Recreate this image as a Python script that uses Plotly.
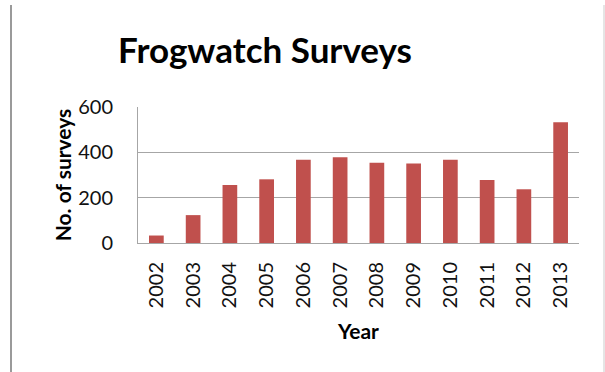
import plotly.graph_objects as go

years = ["2002", "2003", "2004", "2005", "2006", "2007", "2008", "2009", "2010", "2011", "2012", "2013"]
surveys = [33, 123, 256, 281, 367, 378, 354, 351, 367, 278, 237, 533]

W, H = 605, 372
L, R, T, B = 138, 26, 107, 129
pw, ph = W - L - R, H - T - B

FONT = "Lato"
GRAY = "#a6a6a6"

fig = go.Figure(go.Bar(x=years, y=surveys, marker=dict(color="#C0504D", line=dict(width=0)), width=0.4))

fig.update_layout(
    width=W, height=H,
    margin=dict(l=L, r=R, t=T, b=B),
    paper_bgcolor="white", plot_bgcolor="white",
    font=dict(family=FONT, color="#111"),
    showlegend=False,
    title=dict(text="<b>Frogwatch Surveys</b>", xref="container", yref="container",
               x=265 / W, xanchor="center", y=1 - 51 / H, yanchor="middle",
               font=dict(family=FONT, size=35, color="#000")),
    bargap=0.6,
)
fig.update_xaxes(
    type="category", tickangle=-90, showgrid=False,
    showline=True, linecolor=GRAY, linewidth=1,
    ticks="", tickfont=dict(size=20, color="#111"),
    ticklabelstandoff=10,
    title=dict(text="<b>Year</b>", font=dict(size=21, color="#000"), standoff=16),
)
fig.update_yaxes(
    range=[0, 600], dtick=200, showgrid=True, gridcolor=GRAY, gridwidth=1,
    showline=True, linecolor=GRAY, linewidth=1, zeroline=False,
    ticks="", tickfont=dict(size=20, color="#111"), ticklabelstandoff=20,
    title=dict(text="<b>No. of surveys</b>", font=dict(size=21, color="#000"), standoff=0),
)

# page borders of the original screenshot
def px_x(x):
    return (x - L) / pw

def px_y(y):
    return (H - B - y) / ph

fig.add_shape(type="line", xref="paper", yref="paper", x0=px_x(11), x1=px_x(11), y0=px_y(5), y1=px_y(372),
              line=dict(color="#9a9a9a", width=2))
fig.add_shape(type="line", xref="paper", yref="paper", x0=px_x(604), x1=px_x(604), y0=px_y(5), y1=px_y(372),
              line=dict(color="#dcdcdc", width=1.5))

fig.write_html("out.html")
